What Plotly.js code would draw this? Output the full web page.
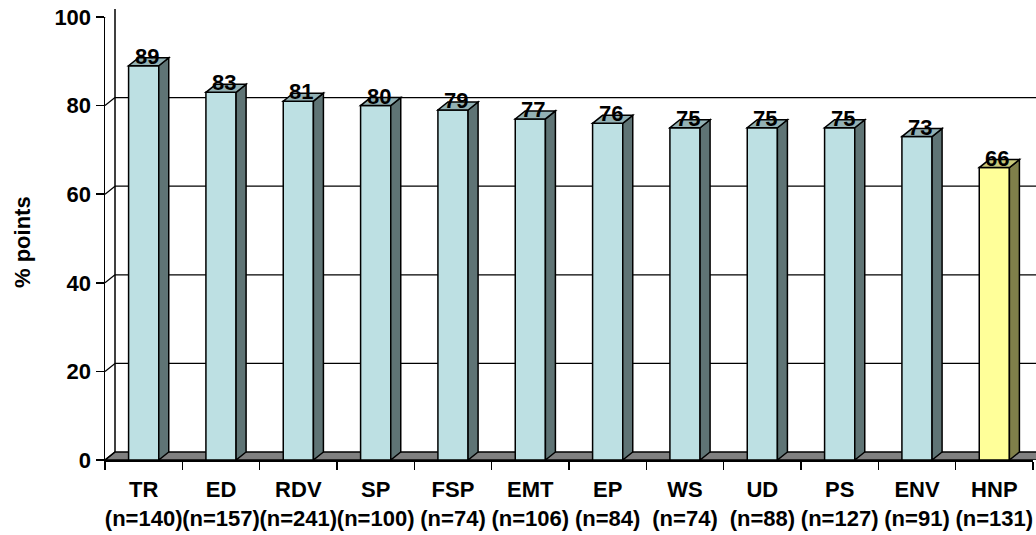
<!DOCTYPE html>
<html>
<head>
<meta charset="utf-8">
<script src="https://cdn.plot.ly/plotly-3.0.1.min.js"></script>
<style>
  html, body { margin: 0; padding: 0; background: #ffffff; }
  #chart { width: 1036px; height: 535px; }
</style>
</head>
<body>
<div id="chart"></div>
<script>
// ---- data ----
const categories = ['TR', 'ED', 'RDV', 'SP', 'FSP', 'EMT', 'EP', 'WS', 'UD', 'PS', 'ENV', 'HNP'];
const values = [89, 83, 81, 80, 79, 77, 76, 75, 75, 75, 73, 66];
const sampleSizes = [140, 157, 241, 100, 74, 106, 84, 74, 88, 127, 91, 131];
const yTickValues = [0, 20, 40, 60, 80, 100];
const highlighted = 'HNP';
const yTitle = '% points';

// ---- style / geometry ----
const W = 1036, H = 535;
const M = { l: 105, r: 3, t: 17, b: 75 };
const plotW = W - M.l - M.r, plotH = H - M.t - M.b;
const DX = 10, DY = 8;             // 3-D depth offset in pixels
const BAR_W = 0.39;                // bar width in category units
const slotPx = plotW / categories.length;
const pxPerUnit = plotH / 100;
const dxData = DX / slotPx, dyData = DY / pxPerUnit;
const hw = BAR_W / 2;
const FONT = 'Liberation Sans, Arial, sans-serif';

const frontCol = '#BDE0E3', sideCol = '#5F7475', topCol = '#93B1B4';
const hFront = '#FFFF99', hSide = '#80804A', hTop = '#C9C97A';

const isHi = categories.map(c => c === highlighted);
const ticktext = categories.map((c, i) => c + '<br>(n=' + sampleSizes[i] + ')');

const shapes = [];
// floor
shapes.push({
  type: 'path', layer: 'below',
  xref: 'paper', xsizemode: 'pixel', xanchor: 0,
  yref: 'y', ysizemode: 'pixel', yanchor: 0,
  path: `M 0 0 L ${plotW + 20} 0 L ${plotW + 20 + DX} ${DY} L ${DX} ${DY} Z`,
  fillcolor: '#808080', line: { color: '#000', width: 1.5 }
});
// back wall grid lines + left wall diagonals
yTickValues.forEach(v => {
  if (v > 0) {
    shapes.push({
      type: 'line', layer: 'below',
      xref: 'paper', x0: DX / plotW, x1: 1.05,
      yref: 'y', ysizemode: 'pixel', yanchor: v, y0: DY, y1: DY,
      line: { color: '#000', width: v === 100 ? 2 : 1.3 }
    });
  }
  shapes.push({
    type: 'line', layer: 'below',
    xref: 'paper', x0: 0, x1: DX / plotW,
    yref: 'y', ysizemode: 'pixel', yanchor: v, y0: 0, y1: DY,
    line: { color: '#000', width: 1.3 }
  });
});
// back wall left edge
shapes.push({
  type: 'line', layer: 'below',
  xref: 'paper', x0: DX / plotW, x1: DX / plotW,
  yref: 'paper', y0: DY / plotH, y1: 1 + DY / plotH,
  line: { color: '#000', width: 1.5 }
});
// bar side + top faces
values.forEach((v, i) => {
  const r = i + hw, l = i - hw;
  shapes.push({
    type: 'path', layer: 'above', xref: 'x', yref: 'y',
    path: `M ${r} 0 L ${r} ${v} L ${r + dxData} ${v + dyData} L ${r + dxData} ${dyData} Z`,
    fillcolor: isHi[i] ? hSide : sideCol, line: { color: '#000', width: 1.5 }
  });
  shapes.push({
    type: 'path', layer: 'above', xref: 'x', yref: 'y',
    path: `M ${l} ${v} L ${r} ${v} L ${r + dxData} ${v + dyData} L ${l + dxData} ${v + dyData} Z`,
    fillcolor: isHi[i] ? hTop : topCol, line: { color: '#000', width: 1.5 }
  });
});

const annotations = values.map((v, i) => ({
  x: categories[i], y: v, xref: 'x', yref: 'y',
  text: String(v), showarrow: false, yanchor: 'bottom',
  xshift: 3, yshift: -5,
  font: { family: FONT, size: 22, color: '#000', weight: 'bold' }
}));
annotations.push({
  xref: 'paper', yref: 'paper', x: -(M.l - 22) / plotW, y: (plotH - 242 + M.t) / plotH,
  xanchor: 'center', yanchor: 'middle',
  text: yTitle, textangle: -90, showarrow: false,
  font: { family: FONT, size: 22, color: '#000', weight: 'bold' }
});

const trace = {
  type: 'bar', x: categories, y: values, width: BAR_W,
  marker: { color: isHi.map(h => h ? hFront : frontCol), line: { color: '#000', width: 1.5 } },
  hoverinfo: 'none'
};

const layout = {
  width: W, height: H,
  margin: M,
  paper_bgcolor: '#fff', plot_bgcolor: 'rgba(0,0,0,0)',
  showlegend: false,
  font: { family: FONT, size: 22, color: '#000' },
  xaxis: {
    type: 'category', range: [-0.5, categories.length - 0.5],
    tickvals: categories, ticktext: ticktext, tickangle: 0,
    ticklabelstandoff: 9,
    tickson: 'boundaries', ticks: 'outside', ticklen: 8, tickwidth: 1.5, tickcolor: '#000',
    showline: true, linecolor: '#000', linewidth: 1.5,
    showgrid: false, zeroline: false,
    tickfont: { family: FONT, size: 22, color: '#000', weight: 'bold' }
  },
  yaxis: {
    range: [0, 100], tickvals: yTickValues,
    ticks: 'outside', ticklen: 8, tickwidth: 1.5, tickcolor: '#000',
    showline: true, linecolor: '#000', linewidth: 1.5,
    showgrid: false, zeroline: false,
    tickfont: { family: FONT, size: 22, color: '#000', weight: 'bold' }
  },
  shapes: shapes,
  annotations: annotations
};

Plotly.newPlot('chart', [trace], layout, { displayModeBar: false, staticPlot: true });
</script>
</body>
</html>
